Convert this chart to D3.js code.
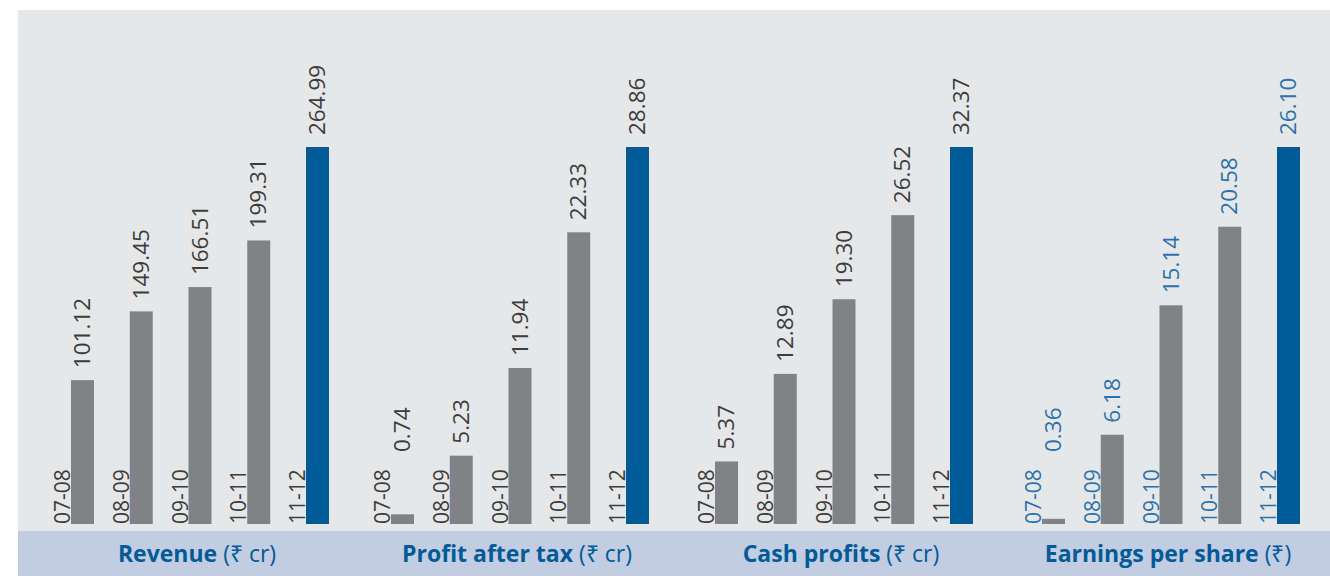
<!DOCTYPE html>
<meta charset="utf-8">
<script src="https://cdn.jsdelivr.net/npm/d3@7"></script>
<style>
body{margin:0;background:#fff;}
text{font-family:"Open Sans",sans-serif;}
</style>
<body>
<div id="chart"></div>
<script>
// data
var years = ["07-08","08-09","09-10","10-11","11-12"];
var metrics = ["Revenue","Profit after tax","Cash profits","Earnings per share"];
var units = ["(₹ cr)","(₹ cr)","(₹ cr)","(₹)"];
var revenue = [101.12,149.45,166.51,199.31,264.99];
var pat = [0.74,5.23,11.94,22.33,28.86];
var cash = [5.37,12.89,19.30,26.52,32.37];
var eps = [0.36,6.18,15.14,20.58,26.10];
var series = [revenue,pat,cash,eps];
var labelColor = ["#3c3c3c","#3c3c3c","#3c3c3c","#2a72ad"];

var W=1330,H=576;
var svg=d3.select("#chart").append("svg").attr("width",W).attr("height",H);

// backdrop + bottom strip
svg.append("rect").attr("x",18).attr("y",10).attr("width",W-18).attr("height",521).attr("fill","#e6e7e9");
svg.append("rect").attr("x",18).attr("y",531).attr("width",W-18).attr("height",45).attr("fill","#c2cce2");

var baseY=524, topY=147, bw=23;
var panelX=d3.scaleOrdinal().domain(metrics).range([71,391,715,1042]);
var barX=d3.scalePoint().domain(years).range([0,235]);

metrics.forEach(function(m,k){
  var vals=series[k];
  var y=d3.scaleLinear().domain([0,d3.max(vals)]).range([baseY,topY]);
  var g=svg.append("g").attr("transform","translate("+panelX(m)+",0)");

  g.selectAll("rect.bar").data(vals).enter().append("rect")
    .attr("class","bar")
    .attr("x",function(d,i){return barX(years[i]);})
    .attr("y",function(d){return y(d);})
    .attr("width",bw)
    .attr("height",function(d){return baseY-y(d);})
    .attr("fill",function(d,i){return i==4?"#015b97":"#818285";});

  // value labels (kept clear of the year labels for short bars)
  g.selectAll("text.val").data(vals).enter().append("text")
    .attr("class","val")
    .attr("transform",function(d,i){
      var ty=Math.min(y(d)-12,452);
      return "translate("+(barX(years[i])+19)+","+ty+") rotate(-90)";})
    .attr("font-size",22.5)
    .attr("fill",labelColor[k])
    .text(function(d){return d.toFixed(2);});

  // year labels
  g.selectAll("text.yr").data(years).enter().append("text")
    .attr("class","yr")
    .attr("transform",function(d){return "translate("+(barX(d)-1)+","+baseY+") rotate(-90)";})
    .attr("font-size",21)
    .attr("fill",labelColor[k])
    .text(function(d){return d;});

  var t=g.append("text")
    .attr("x",126).attr("y",562)
    .attr("text-anchor","middle")
    .attr("font-size",23)
    .attr("fill","#005b96");
  t.append("tspan").attr("font-weight","bold").text(m+" ");
  t.append("tspan").text(units[k]);
});
</script>
</body>
</html>
